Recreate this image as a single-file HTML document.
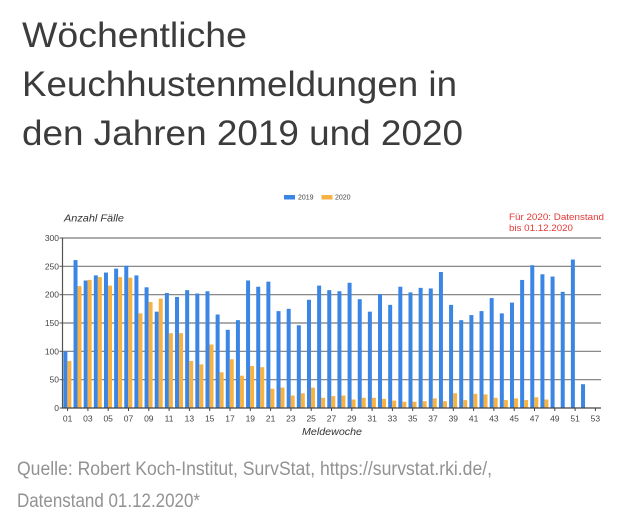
<!DOCTYPE html>
<html>
<head>
<meta charset="utf-8">
<style>
html,body{margin:0;padding:0;background:#fff;}
svg{display:block;}
</style>
</head>
<body>
<svg width="640" height="524" viewBox="0 0 640 524" xmlns="http://www.w3.org/2000/svg">
<rect width="640" height="524" fill="#fff"/>
<!-- Title -->
<g font-family="Liberation Sans, DejaVu Sans, sans-serif" font-size="35" fill="#3c3c3c">
<text x="22" y="47" textLength="225" lengthAdjust="spacingAndGlyphs">Wöchentliche</text>
<text x="22" y="96" textLength="435" lengthAdjust="spacingAndGlyphs">Keuchhustenmeldungen in</text>
<text x="22" y="145" textLength="441" lengthAdjust="spacingAndGlyphs">den Jahren 2019 und 2020</text>
</g>
<!-- Footer -->
<g font-family="Liberation Sans, DejaVu Sans, sans-serif" font-size="19" fill="#929292">
<text x="17" y="475" textLength="475" lengthAdjust="spacingAndGlyphs">Quelle: Robert Koch-Institut, SurvStat, https://survstat.rki.de/,</text>
<text x="17" y="507" textLength="183" lengthAdjust="spacingAndGlyphs">Datenstand 01.12.2020*</text>
</g>
<!-- Legend -->
<rect x="284" y="195" width="11" height="4.5" fill="#3b86e4"/>
<text x="298" y="199.5" font-family="Liberation Sans, sans-serif" font-size="7" fill="#444">2019</text>
<rect x="321.5" y="195" width="11" height="4.5" fill="#f6b244"/>
<text x="335" y="199.5" font-family="Liberation Sans, sans-serif" font-size="7" fill="#444">2020</text>
<!-- Annotations -->
<text x="64" y="221.5" font-family="Liberation Sans, sans-serif" font-style="italic" font-size="10" fill="#333" textLength="60" lengthAdjust="spacingAndGlyphs">Anzahl Fälle</text>
<g font-family="Liberation Sans, sans-serif" font-size="9.5" fill="#e53935">
<text x="509" y="220" textLength="95" lengthAdjust="spacingAndGlyphs">Für 2020: Datenstand</text>
<text x="509" y="231" textLength="64" lengthAdjust="spacingAndGlyphs">bis 01.12.2020</text>
</g>
<!-- Gridlines -->
<g stroke="#7a7a7a" stroke-width="1.2">
<line x1="62.5" y1="238" x2="601" y2="238"/>
<line x1="62.5" y1="266.3" x2="601" y2="266.3"/>
<line x1="62.5" y1="294.7" x2="601" y2="294.7"/>
<line x1="62.5" y1="323" x2="601" y2="323"/>
<line x1="62.5" y1="351.3" x2="601" y2="351.3"/>
<line x1="62.5" y1="379.7" x2="601" y2="379.7"/>
</g>
<g stroke="#555" stroke-width="1">
<line x1="59.5" y1="238" x2="62.5" y2="238"/>
<line x1="59.5" y1="266.3" x2="62.5" y2="266.3"/>
<line x1="59.5" y1="294.7" x2="62.5" y2="294.7"/>
<line x1="59.5" y1="323" x2="62.5" y2="323"/>
<line x1="59.5" y1="351.3" x2="62.5" y2="351.3"/>
<line x1="59.5" y1="379.7" x2="62.5" y2="379.7"/>
<line x1="59.5" y1="408" x2="62.5" y2="408"/>
</g>
<!-- Y labels -->
<g font-family="Liberation Sans, sans-serif" font-size="8.5" fill="#444" text-anchor="end">
<text x="59" y="241">300</text>
<text x="59" y="269.3">250</text>
<text x="59" y="297.7">200</text>
<text x="59" y="326">150</text>
<text x="59" y="354.3">100</text>
<text x="59" y="382.7">50</text>
<text x="59" y="411">0</text>
</g>
<!-- Bars 2019 -->
<g transform="matrix(10.15 0 0 -0.56667 53.225 408)" fill="#3b86e4">
<rect x="1" y="0" width="0.394" height="100"/>
<rect x="2" y="0" width="0.394" height="261"/>
<rect x="3" y="0" width="0.394" height="225"/>
<rect x="4" y="0" width="0.394" height="234"/>
<rect x="5" y="0" width="0.394" height="239"/>
<rect x="6" y="0" width="0.394" height="246"/>
<rect x="7" y="0" width="0.394" height="251"/>
<rect x="8" y="0" width="0.394" height="234"/>
<rect x="9" y="0" width="0.394" height="213"/>
<rect x="10" y="0" width="0.394" height="170"/>
<rect x="11" y="0" width="0.394" height="203"/>
<rect x="12" y="0" width="0.394" height="196"/>
<rect x="13" y="0" width="0.394" height="208"/>
<rect x="14" y="0" width="0.394" height="202"/>
<rect x="15" y="0" width="0.394" height="206"/>
<rect x="16" y="0" width="0.394" height="165"/>
<rect x="17" y="0" width="0.394" height="138"/>
<rect x="18" y="0" width="0.394" height="155"/>
<rect x="19" y="0" width="0.394" height="225"/>
<rect x="20" y="0" width="0.394" height="214"/>
<rect x="21" y="0" width="0.394" height="223"/>
<rect x="22" y="0" width="0.394" height="171"/>
<rect x="23" y="0" width="0.394" height="175"/>
<rect x="24" y="0" width="0.394" height="146"/>
<rect x="25" y="0" width="0.394" height="191"/>
<rect x="26" y="0" width="0.394" height="216"/>
<rect x="27" y="0" width="0.394" height="208"/>
<rect x="28" y="0" width="0.394" height="206"/>
<rect x="29" y="0" width="0.394" height="221"/>
<rect x="30" y="0" width="0.394" height="192"/>
<rect x="31" y="0" width="0.394" height="170"/>
<rect x="32" y="0" width="0.394" height="201"/>
<rect x="33" y="0" width="0.394" height="182"/>
<rect x="34" y="0" width="0.394" height="214"/>
<rect x="35" y="0" width="0.394" height="204"/>
<rect x="36" y="0" width="0.394" height="212"/>
<rect x="37" y="0" width="0.394" height="211"/>
<rect x="38" y="0" width="0.394" height="240"/>
<rect x="39" y="0" width="0.394" height="182"/>
<rect x="40" y="0" width="0.394" height="155"/>
<rect x="41" y="0" width="0.394" height="164"/>
<rect x="42" y="0" width="0.394" height="171"/>
<rect x="43" y="0" width="0.394" height="194"/>
<rect x="44" y="0" width="0.394" height="167"/>
<rect x="45" y="0" width="0.394" height="186"/>
<rect x="46" y="0" width="0.394" height="226"/>
<rect x="47" y="0" width="0.394" height="252"/>
<rect x="48" y="0" width="0.394" height="236"/>
<rect x="49" y="0" width="0.394" height="232"/>
<rect x="50" y="0" width="0.394" height="205"/>
<rect x="51" y="0" width="0.394" height="262"/>
<rect x="52" y="0" width="0.394" height="42"/>
</g>
<!-- Bars 2020 -->
<g transform="matrix(10.15 0 0 -0.56667 57.225 408)" fill="#f6b244">
<rect x="1" y="0" width="0.394" height="83"/>
<rect x="2" y="0" width="0.394" height="215"/>
<rect x="3" y="0" width="0.394" height="226"/>
<rect x="4" y="0" width="0.394" height="231"/>
<rect x="5" y="0" width="0.394" height="216"/>
<rect x="6" y="0" width="0.394" height="231"/>
<rect x="7" y="0" width="0.394" height="230"/>
<rect x="8" y="0" width="0.394" height="167"/>
<rect x="9" y="0" width="0.394" height="187"/>
<rect x="10" y="0" width="0.394" height="193"/>
<rect x="11" y="0" width="0.394" height="132"/>
<rect x="12" y="0" width="0.394" height="132"/>
<rect x="13" y="0" width="0.394" height="83"/>
<rect x="14" y="0" width="0.394" height="77"/>
<rect x="15" y="0" width="0.394" height="112"/>
<rect x="16" y="0" width="0.394" height="63"/>
<rect x="17" y="0" width="0.394" height="86"/>
<rect x="18" y="0" width="0.394" height="57"/>
<rect x="19" y="0" width="0.394" height="74"/>
<rect x="20" y="0" width="0.394" height="72"/>
<rect x="21" y="0" width="0.394" height="34"/>
<rect x="22" y="0" width="0.394" height="36"/>
<rect x="23" y="0" width="0.394" height="22"/>
<rect x="24" y="0" width="0.394" height="26"/>
<rect x="25" y="0" width="0.394" height="36"/>
<rect x="26" y="0" width="0.394" height="18"/>
<rect x="27" y="0" width="0.394" height="21"/>
<rect x="28" y="0" width="0.394" height="22"/>
<rect x="29" y="0" width="0.394" height="15"/>
<rect x="30" y="0" width="0.394" height="18"/>
<rect x="31" y="0" width="0.394" height="18"/>
<rect x="32" y="0" width="0.394" height="16"/>
<rect x="33" y="0" width="0.394" height="13"/>
<rect x="34" y="0" width="0.394" height="11"/>
<rect x="35" y="0" width="0.394" height="11"/>
<rect x="36" y="0" width="0.394" height="12"/>
<rect x="37" y="0" width="0.394" height="17"/>
<rect x="38" y="0" width="0.394" height="12"/>
<rect x="39" y="0" width="0.394" height="26"/>
<rect x="40" y="0" width="0.394" height="14"/>
<rect x="41" y="0" width="0.394" height="25"/>
<rect x="42" y="0" width="0.394" height="24"/>
<rect x="43" y="0" width="0.394" height="18"/>
<rect x="44" y="0" width="0.394" height="14"/>
<rect x="45" y="0" width="0.394" height="17"/>
<rect x="46" y="0" width="0.394" height="14"/>
<rect x="47" y="0" width="0.394" height="19"/>
<rect x="48" y="0" width="0.394" height="15"/>
</g>
<!-- Axes -->
<line x1="62.5" y1="237.5" x2="62.5" y2="408.5" stroke="#555" stroke-width="1.2"/>
<line x1="62" y1="408" x2="601" y2="408" stroke="#444" stroke-width="1.2"/>
<!-- X ticks -->
<g stroke="#444" stroke-width="1">
<line x1="67.6" y1="408" x2="67.6" y2="411"/>
<line x1="87.9" y1="408" x2="87.9" y2="411"/>
<line x1="108.2" y1="408" x2="108.2" y2="411"/>
<line x1="128.5" y1="408" x2="128.5" y2="411"/>
<line x1="148.8" y1="408" x2="148.8" y2="411"/>
<line x1="169.1" y1="408" x2="169.1" y2="411"/>
<line x1="189.4" y1="408" x2="189.4" y2="411"/>
<line x1="209.7" y1="408" x2="209.7" y2="411"/>
<line x1="230" y1="408" x2="230" y2="411"/>
<line x1="250.3" y1="408" x2="250.3" y2="411"/>
<line x1="270.6" y1="408" x2="270.6" y2="411"/>
<line x1="290.9" y1="408" x2="290.9" y2="411"/>
<line x1="311.2" y1="408" x2="311.2" y2="411"/>
<line x1="331.5" y1="408" x2="331.5" y2="411"/>
<line x1="351.8" y1="408" x2="351.8" y2="411"/>
<line x1="372.1" y1="408" x2="372.1" y2="411"/>
<line x1="392.4" y1="408" x2="392.4" y2="411"/>
<line x1="412.7" y1="408" x2="412.7" y2="411"/>
<line x1="433" y1="408" x2="433" y2="411"/>
<line x1="453.3" y1="408" x2="453.3" y2="411"/>
<line x1="473.6" y1="408" x2="473.6" y2="411"/>
<line x1="493.9" y1="408" x2="493.9" y2="411"/>
<line x1="514.2" y1="408" x2="514.2" y2="411"/>
<line x1="534.5" y1="408" x2="534.5" y2="411"/>
<line x1="554.8" y1="408" x2="554.8" y2="411"/>
<line x1="575.1" y1="408" x2="575.1" y2="411"/>
<line x1="595.4" y1="408" x2="595.4" y2="411"/>
</g>
<!-- X labels -->
<g font-family="Liberation Sans, sans-serif" font-size="8.5" fill="#444" text-anchor="middle">
<text x="67.6" y="421.5">01</text>
<text x="87.9" y="421.5">03</text>
<text x="108.2" y="421.5">05</text>
<text x="128.5" y="421.5">07</text>
<text x="148.8" y="421.5">09</text>
<text x="169.1" y="421.5">11</text>
<text x="189.4" y="421.5">13</text>
<text x="209.7" y="421.5">15</text>
<text x="230" y="421.5">17</text>
<text x="250.3" y="421.5">19</text>
<text x="270.6" y="421.5">21</text>
<text x="290.9" y="421.5">23</text>
<text x="311.2" y="421.5">25</text>
<text x="331.5" y="421.5">27</text>
<text x="351.8" y="421.5">29</text>
<text x="372.1" y="421.5">31</text>
<text x="392.4" y="421.5">33</text>
<text x="412.7" y="421.5">35</text>
<text x="433" y="421.5">37</text>
<text x="453.3" y="421.5">39</text>
<text x="473.6" y="421.5">41</text>
<text x="493.9" y="421.5">43</text>
<text x="514.2" y="421.5">45</text>
<text x="534.5" y="421.5">47</text>
<text x="554.8" y="421.5">49</text>
<text x="575.1" y="421.5">51</text>
<text x="595.4" y="421.5">53</text>
</g>
<text x="332" y="435" font-family="Liberation Sans, sans-serif" font-style="italic" font-size="10" fill="#333" text-anchor="middle" textLength="60" lengthAdjust="spacingAndGlyphs">Meldewoche</text>
</svg>
</body>
</html>
